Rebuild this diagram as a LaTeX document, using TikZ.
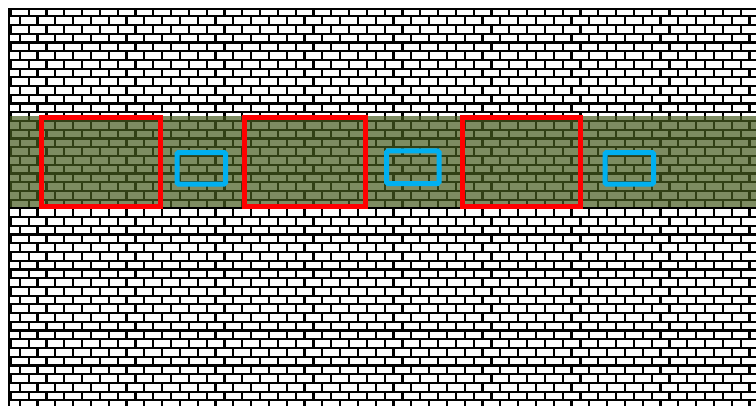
\documentclass[tikz,border=0pt]{standalone}
\definecolor{bandgreen}{RGB}{70,92,30}
\definecolor{boxred}{RGB}{255,0,0}
\definecolor{boxblue}{RGB}{0,176,240}
\tikzset{
  mortar/.style={line width=2.2pt, draw=black},
  band/.style={fill=bandgreen, fill opacity=0.7},
  bigbox/.style={draw=boxred, line width=5pt},
  smallbox/.style={draw=boxblue, line width=5pt, rounded corners=1.5pt},
  frame/.style={draw=black, line width=2.5pt}
}
\begin{document}
\begin{tikzpicture}[x=1pt,y=-1pt]
\useasboundingbox (0,0) rectangle (756,405);
\clip (0,0) rectangle (756,405);
\fill[white] (0,0) rectangle (756,405);
% bricks
\begin{scope}
\clip (9,9) rectangle (770,420);
\foreach \k in {-12,...,34}{
  \pgfmathsetmacro{\yy}{112.3+\k*8.73}
  \pgfmathsetmacro{\yb}{\yy+8.73}
  \pgfmathsetmacro{\off}{mod(abs(\k),2)*8.9+10.8-17.8}
  \draw[mortar] (0,\yy) -- (770,\yy);
  \foreach \j in {0,...,44}{
    \pgfmathsetmacro{\xx}{\off+\j*17.8}
    \draw[mortar] (\xx,\yy) -- (\xx,\yb);
  }
}
\end{scope}
% green band
\path[band] (10,116) rectangle (770,207);
% frame
\draw[frame] (9,9) rectangle (770,420);
% red boxes
\node[bigbox, minimum width=119pt, minimum height=89pt, inner sep=0pt] (r1) at (101,162) {};
\node[bigbox, minimum width=121pt, minimum height=89pt, inner sep=0pt] (r2) at (305,162) {};
\node[bigbox, minimum width=118pt, minimum height=89pt, inner sep=0pt] (r3) at (521.5,162) {};
% blue boxes
\node[smallbox, minimum width=48.5pt, minimum height=31.5pt, inner sep=0pt] (b1) at (201.25,168.25) {};
\node[smallbox, minimum width=52.5pt, minimum height=32.7pt, inner sep=0pt] (b2) at (412.75,167.15) {};
\node[smallbox, minimum width=48.5pt, minimum height=31.5pt, inner sep=0pt] (b3) at (629.25,168.25) {};
\end{tikzpicture}
\end{document}
